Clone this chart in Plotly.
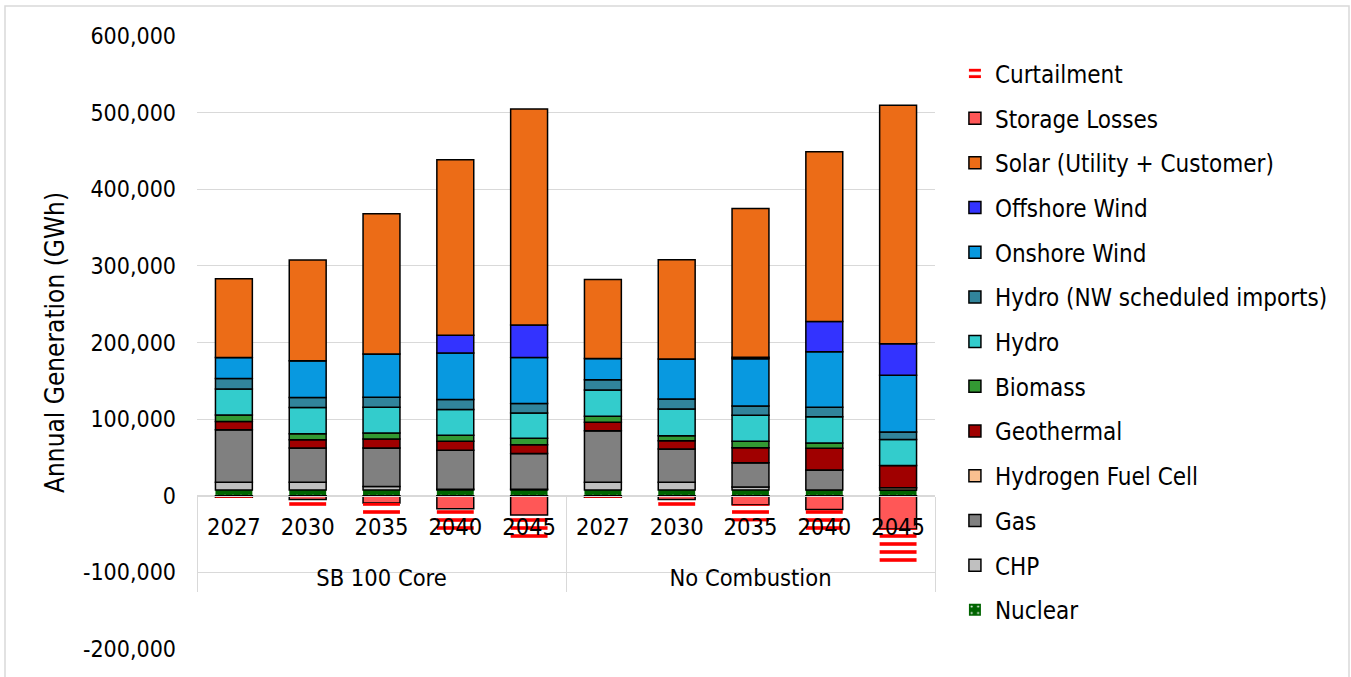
import plotly.graph_objects as go

groups = ["SB 100 Core"] * 5 + ["No Combustion"] * 5
years = ["2027", "2030", "2035", "2040", "2045"] * 2

nuclear = [7500, 7500, 7500, 7500, 7500, 7500, 7500, 7500, 7500, 7500]
chp = [10000, 10000, 4500, 1000, 1000, 10000, 10000, 4000, 0, 0]
gas = [68700, 44800, 50400, 51000, 46800, 67400, 43500, 31700, 26100, 0]
hydrogen = [0, 0, 0, 0, 0, 0, 0, 0, 0, 3000]
geothermal = [10800, 10900, 11700, 11700, 11300, 10900, 10900, 19600, 28300, 29100]
biomass = [8300, 7800, 7800, 7800, 8300, 7800, 6500, 8300, 7000, 0]
hydro = [33900, 34300, 33500, 33500, 33000, 34300, 34800, 33900, 34300, 33900]
hydro_nw = [13900, 13000, 13000, 13000, 12600, 13500, 13000, 12200, 12200, 9600]
onshore = [27400, 47800, 56500, 60900, 60000, 27800, 52200, 61700, 72600, 74300]
offshore = [0, 0, 0, 23000, 42200, 0, 0, 2000, 39500, 40900]
solar = [102600, 131700, 183000, 229100, 282000, 103000, 129500, 194000, 221300, 311200]
storage_losses = [-2000, -5000, -9500, -17000, -25000, -2000, -5000, -11700, -18000, -43500]
curtailment = [-1500, -10000, -18500, -28000, -33000, -1500, -9500, -22000, -30000, -44000]

y_tickvals = [-200000, -100000, 0, 100000, 200000, 300000, 400000, 500000, 600000]
y_ticktext = ["-200,000", "-100,000", "0", "100,000", "200,000", "300,000", "400,000", "500,000", "600,000"]

FONT = "DejaVu Sans Condensed, DejaVu Sans, sans-serif"

series = [
    ("Nuclear", nuclear, "#006400"),
    ("CHP", chp, "#C0C0C0"),
    ("Gas", gas, "#808080"),
    ("Hydrogen Fuel Cell", hydrogen, "#FAC090"),
    ("Geothermal", geothermal, "#A00000"),
    ("Biomass", biomass, "#339933"),
    ("Hydro", hydro, "#33CCCC"),
    ("Hydro (NW scheduled imports)", hydro_nw, "#31849B"),
    ("Onshore Wind", onshore, "#0899E0"),
    ("Offshore Wind", offshore, "#3333FF"),
    ("Solar (Utility + Customer)", solar, "#EC6C17"),
    ("Storage Losses", storage_losses, "#FF5757"),
    ("Curtailment", curtailment, "#FF0000"),
]

# second-level labels pushed down one line to mimic Excel's spacing
group_labels = ["<br>" + g for g in groups]
x = [group_labels, years]

fig = go.Figure()
n = len(series)
for i, (name, vals, color) in enumerate(series):
    marker = dict(color=color, line=dict(color="black", width=1.5))
    if name == "Nuclear":
        marker = dict(color=color, line=dict(width=0),
                      pattern=dict(shape=".", fgcolor="white", bgcolor=color,
                                   size=8, solidity=0.08, fillmode="replace"))
    elif name == "Curtailment":
        marker = dict(color=color, line=dict(width=0),
                      pattern=dict(shape="-", fgcolor=color, bgcolor="rgba(0,0,0,0)",
                                   size=8, solidity=0.45, fillmode="replace"))
    fig.add_trace(go.Bar(x=x, y=vals, name=name, marker=marker,
                         legendgroup=name, legendrank=n - i))

fig.update_layout(
    barmode="relative",
    bargap=0.5,
    width=1351, height=677,
    margin=dict(l=197, r=416, t=36, b=28),
    plot_bgcolor="white",
    paper_bgcolor="white",
    font=dict(family=FONT, size=23, color="black"),
    legend=dict(x=1.027, y=0.975, xanchor="left", yanchor="top",
                traceorder="grouped", tracegroupgap=10.5,
                font=dict(size=24), itemwidth=30),
    showlegend=True,
)
fig.update_yaxes(
    range=[-200000, 600000],
    tickvals=y_tickvals, ticktext=y_ticktext,
    showgrid=True, gridcolor="#D9D9D9", gridwidth=1,
    zeroline=False, showline=False,
    ticklabelstandoff=20,
    tickfont=dict(size=23),
    title=dict(text="Annual Generation (GWh)", font=dict(size=26), standoff=10),
    automargin=False,
)
fig.update_xaxes(
    type="multicategory",
    anchor="free", position=0.25,
    showline=True, linecolor="#D9D9D9", linewidth=1,
    showdividers=True, dividercolor="#D9D9D9", dividerwidth=1,
    ticklabelstandoff=10,
    tickfont=dict(size=23.5),
    automargin=False,
)
fig.add_shape(type="rect", xref="paper", yref="paper",
              x0=(5 - 197) / 738, x1=(1349 - 197) / 738,
              y0=-0.2, y1=(649 - 6) / 613,
              line=dict(color="#D9D9D9", width=1.5), layer="below")

fig.write_html("out.html", config={"displayModeBar": False},
               post_script="document.body.style.margin='0px';")
